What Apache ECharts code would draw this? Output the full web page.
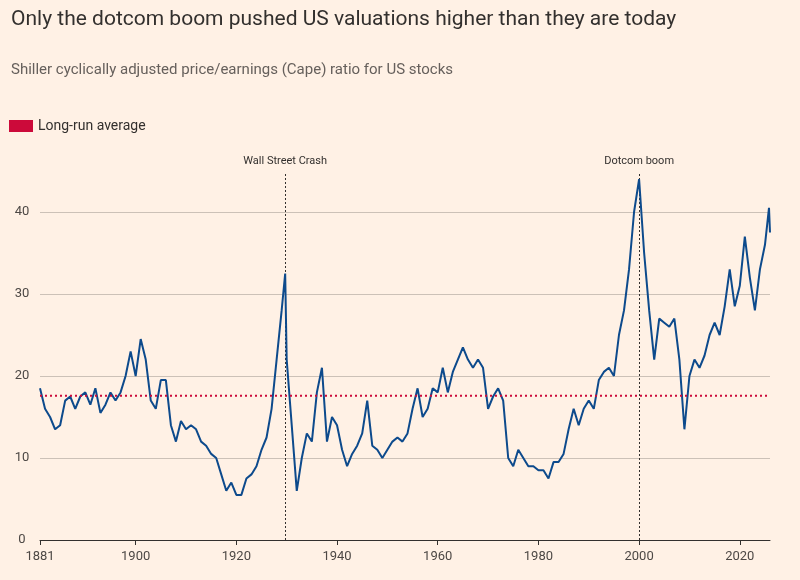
<!DOCTYPE html>
<html>
<head>
<meta charset="utf-8">
<script src="https://cdn.jsdelivr.net/npm/echarts@6/dist/echarts.min.js"></script>
<style>
  html, body { margin: 0; padding: 0; background: #fff1e5; }
  #chart { width: 800px; height: 580px; }
</style>
</head>
<body>
<div id="chart"></div>
<script>
var years = [1881, 1882, 1883, 1884, 1885, 1886, 1887, 1888, 1889, 1890,
    1891, 1892, 1893, 1894, 1895, 1896, 1897, 1898, 1899, 1900,
    1901, 1902, 1903, 1904, 1905, 1906, 1907, 1908, 1909, 1910,
    1911, 1912, 1913, 1914, 1915, 1916, 1917, 1918, 1919, 1920,
    1921, 1922, 1923, 1924, 1925, 1926, 1927, 1928, 1929, 1929.7,
    1930, 1931, 1932, 1933, 1934, 1935, 1936, 1937, 1938, 1939,
    1940, 1941, 1942, 1943, 1944, 1945, 1946, 1947, 1948, 1949,
    1950, 1951, 1952, 1953, 1954, 1955, 1956, 1957, 1958, 1959,
    1960, 1961, 1962, 1963, 1964, 1965, 1966, 1967, 1968, 1969,
    1970, 1971, 1972, 1973, 1974, 1975, 1976, 1977, 1978, 1979,
    1980, 1981, 1982, 1983, 1984, 1985, 1986, 1987, 1988, 1989,
    1990, 1991, 1992, 1993, 1994, 1995, 1996, 1997, 1998, 1999,
    2000, 2001, 2002, 2003, 2004, 2005, 2006, 2007, 2008, 2009,
    2010, 2011, 2012, 2013, 2014, 2015, 2016, 2017, 2018, 2019,
    2020, 2021, 2022, 2023, 2024, 2025, 2025.8, 2026];
var cape = [18.5, 16, 15, 13.5, 14, 17, 17.5, 16, 17.5, 18,
    16.5, 18.5, 15.5, 16.5, 18, 17, 18, 20, 23, 20,
    24.5, 22, 17, 16, 19.5, 19.5, 14, 12, 14.5, 13.5,
    14, 13.5, 12, 11.5, 10.5, 10, 8, 6, 7, 5.5,
    5.5, 7.5, 8, 9, 11, 12.5, 16, 22, 28, 32.5,
    22, 14, 6, 10, 13, 12, 18, 21, 12, 15,
    14, 11, 9, 10.5, 11.5, 13, 17, 11.5, 11, 10,
    11, 12, 12.5, 12, 13, 16, 18.5, 15, 16, 18.5,
    18, 21, 18, 20.5, 22, 23.5, 22, 21, 22, 21,
    16, 17.5, 18.5, 17, 10, 9, 11, 10, 9, 9,
    8.5, 8.5, 7.5, 9.5, 9.5, 10.5, 13.5, 16, 14, 16,
    17, 16, 19.5, 20.5, 21, 20, 25, 28, 33, 40,
    44, 35, 28, 22, 27, 26.5, 26, 27, 22, 13.5,
    20, 22, 21, 22.5, 25, 26.5, 25, 28.5, 33, 28.5,
    31, 37, 32, 28, 33, 36, 40.5, 37.5];
var longRunAverage = 17.6;
var events = [{ name: 'Wall Street Crash', year: 1929.7 }, { name: 'Dotcom boom', year: 2000 }];
var xTicks = [1881, 1900, 1920, 1940, 1960, 1980, 2000, 2020];
var yGrid = [10, 20, 30, 40];

var chart = echarts.init(document.getElementById('chart'));
var font = 'Roboto, "Noto Sans", sans-serif';

chart.setOption({
    backgroundColor: '#fff1e5',
    textStyle: { fontFamily: font },
    title: [
        { text: 'Only the dotcom boom pushed US valuations higher than they are today', left: 6, top: 4,
          textStyle: { fontSize: 21, fontWeight: 'normal', color: '#33302e', fontFamily: font } },
        { text: 'Shiller cyclically adjusted price/earnings (Cape) ratio for US stocks', left: 6, top: 58,
          textStyle: { fontSize: 15, fontWeight: 'normal', color: '#66605c', fontFamily: font } }
    ],
    legend: {
        left: 4, top: 114, icon: 'rect', itemWidth: 24, itemHeight: 12, itemGap: 6,
        data: ['Long-run average'],
        textStyle: { fontSize: 14, color: '#33302e', fontFamily: font }
    },
    grid: { left: 40, right: 30, top: 130, bottom: 40 },
    xAxis: {
        type: 'value', min: 1881, max: 2026,
        axisLine: { lineStyle: { color: '#33302e' } },
        axisTick: { customValues: xTicks, length: 5, lineStyle: { color: '#33302e' } },
        axisLabel: { customValues: xTicks, color: '#4d4845', fontSize: 13, margin: 10,
                     formatter: function (v) { return String(v); } },
        splitLine: { show: false }
    },
    yAxis: {
        type: 'value', min: 0, max: 50, interval: 10,
        axisLine: { show: false }, axisTick: { show: false },
        axisLabel: { color: '#4d4845', fontSize: 13, showMaxLabel: false, margin: 18,
                     align: 'center' },
        splitLine: { show: false }
    },
    series: [
        {
            name: 'CAPE', type: 'line', symbol: 'none', z: 5,
            lineStyle: { color: '#0d4a8c', width: 2 },
            data: years.map(function (y, i) { return [y, cape[i]]; }),
            markLine: {
                silent: true, symbol: 'none', animation: false,
                data: yGrid.map(function (v) {
                    return { yAxis: v, lineStyle: { color: '#ccc1b7', type: 'solid', width: 1 }, label: { show: false } };
                }).concat(events.map(function (e) {
                    return [
                        { coord: [e.year, 0], lineStyle: { color: '#33302e', type: [2, 2], width: 1 },
                          label: { show: true, position: 'end', formatter: e.name, distance: 6,
                                   color: '#33302e', fontSize: 11, fontFamily: font } },
                        { coord: [e.year, 44.8] }
                    ];
                }))
            }
        },
        {
            name: 'Long-run average', type: 'line', symbol: 'none', z: 6,
            color: '#cc0a3a',
            lineStyle: { color: '#cc0a3a', width: 2, type: [2, 3] },
            data: [[1881, longRunAverage], [2026, longRunAverage]]
        }
    ]
});
</script>
</body>
</html>
